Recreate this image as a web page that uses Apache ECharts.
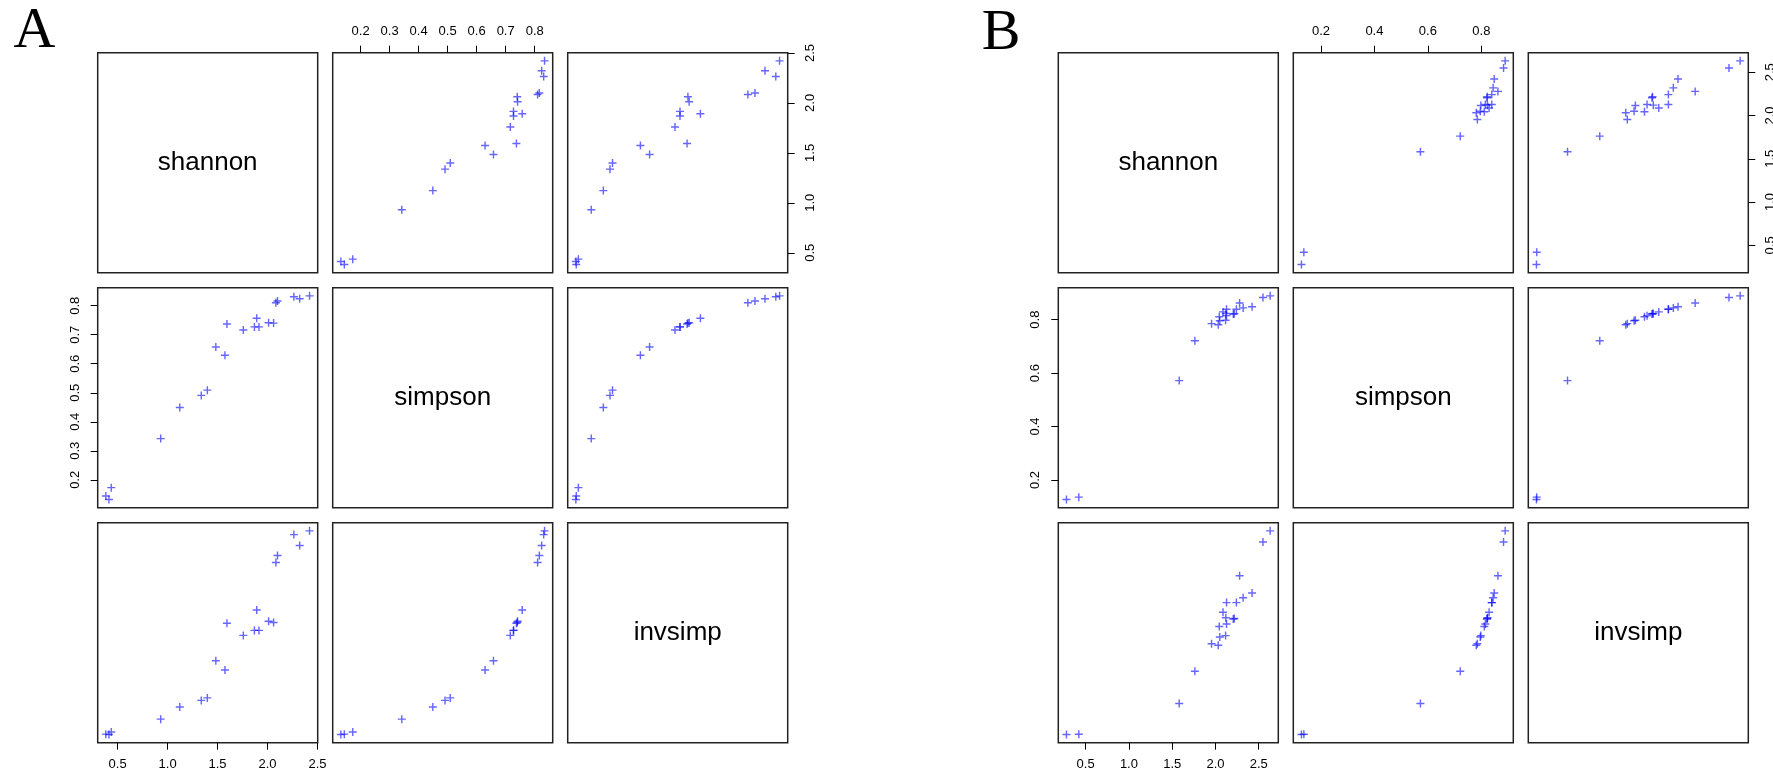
<!DOCTYPE html>
<html>
<head>
<meta charset="utf-8">
<script src="https://cdn.jsdelivr.net/npm/echarts@6/dist/echarts.min.js"></script>
<style>
html,body{margin:0;padding:0;background:#fff;}
#chart{width:1773px;height:774px;}
</style>
</head>
<body>
<div id="chart"></div>
<script>
// ---- Data ----
const varNames = ['shannon', 'simpson', 'invsimp'];

const A_shannon = [0.382, 0.413, 0.436, 0.931, 1.122, 1.337, 1.398, 1.483, 1.574, 1.594, 1.758, 1.892, 1.869, 1.915, 2.011, 2.061, 2.084, 2.100, 2.264, 2.322, 2.421];
const A_simpson = [0.144, 0.132, 0.173, 0.342, 0.449, 0.491, 0.509, 0.658, 0.629, 0.737, 0.716, 0.757, 0.727, 0.727, 0.741, 0.740, 0.810, 0.816, 0.831, 0.824, 0.834];
const A_invsimp = [1.16, 1.15, 1.21, 1.52, 1.81, 1.97, 2.03, 2.92, 2.70, 3.82, 3.53, 4.14, 3.65, 3.65, 3.87, 3.84, 5.28, 5.45, 5.95, 5.69, 6.04];

const B_shannon = [0.278, 0.421, 1.581, 1.762, 1.955, 2.032, 2.050, 2.117, 2.044, 2.128, 2.087, 2.128, 2.120, 2.206, 2.218, 2.242, 2.279, 2.320, 2.423, 2.549, 2.632];
const B_simpson = [0.127, 0.136, 0.572, 0.721, 0.785, 0.781, 0.796, 0.798, 0.811, 0.815, 0.829, 0.839, 0.823, 0.821, 0.822, 0.839, 0.862, 0.844, 0.848, 0.883, 0.889];
const B_invsimp = [1.145, 1.157, 2.34, 3.58, 4.64, 4.58, 4.90, 4.95, 5.30, 5.40, 5.85, 6.22, 5.64, 5.59, 5.61, 6.22, 7.25, 6.41, 6.59, 8.55, 8.98];

const A_shannonTicks = [0.5, 1.0, 1.5, 2.0, 2.5];
const A_simpsonTicks = [0.2, 0.3, 0.4, 0.5, 0.6, 0.7, 0.8];
const A_invsimpTicks = [1, 2, 3, 4, 5, 6];
const B_shannonTicks = [0.5, 1.0, 1.5, 2.0, 2.5];
const B_simpsonTicks = [0.2, 0.4, 0.6, 0.8];
const B_invsimpTicks = [2, 4, 6, 8];
const tickDecimals = [1, 1, 0];

// ---- Layout ----
const PANEL = 220, STEP = 235, TOP0 = 52.7;
const figs = [
  { label: 'A', left0: 97.7, labelX: 34.5, labelY: 31.5,
    data: [A_shannon, A_simpson, A_invsimp], ticks: [A_shannonTicks, A_simpsonTicks, A_invsimpTicks] },
  { label: 'B', left0: 1058.3, labelX: 1001, labelY: 34,
    data: [B_shannon, B_simpson, B_invsimp], ticks: [B_shannonTicks, B_simpsonTicks, B_invsimpTicks] }
];

// R-style 4% range extension
function ext(arr) {
  const mn = Math.min.apply(null, arr), mx = Math.max.apply(null, arr);
  const d = (mx - mn) * 0.04;
  return [mn - d, mx + d];
}

const PLUS = 'path://M5.75,0h2.5v5.75h5.75v2.5h-5.75v5.75h-2.5v-5.75h-5.75v-2.5h5.75z';
const FONT = 'Liberation Sans';

const grids = [], xAxes = [], yAxes = [], series = [], graphics = [];

figs.forEach(f => {
  graphics.push({
    type: 'text', x: f.labelX, y: f.labelY,
    style: { text: f.label, font: '58px "Liberation Serif"', fill: '#000', textAlign: 'center', textVerticalAlign: 'middle' }
  });
  for (let r = 0; r < 3; r++) {
    for (let c = 0; c < 3; c++) {
      const idx = grids.length;
      const left = f.left0 + c * STEP, top = TOP0 + r * STEP;
      grids.push({ left: left, top: top, width: PANEL, height: PANEL, show: true,
        borderColor: '#222', borderWidth: 1.5, backgroundColor: 'transparent', outerBoundsMode: 'none' });
      const diag = r === c;
      const xr = ext(f.data[c]), yr = ext(f.data[r]);
      const showTop = r === 0 && c % 2 === 1;
      const showBottom = r === 2 && c % 2 === 0;
      const showLeft = c === 0 && r % 2 === 1;
      const showRight = c === 2 && r % 2 === 0;
      const xDec = tickDecimals[c], yDec = tickDecimals[r];
      xAxes.push({
        gridIndex: idx, type: 'value', min: xr[0], max: xr[1],
        position: showTop ? 'top' : 'bottom',
        show: !diag && (showTop || showBottom),
        axisLine: { show: false }, splitLine: { show: false },
        axisTick: { show: true, inside: false, length: 7, customValues: f.ticks[c], lineStyle: { color: '#000', width: 1 } },
        axisLabel: { customValues: f.ticks[c], formatter: v => Number(v).toFixed(xDec), margin: 15,
          color: '#000', fontSize: 13, fontFamily: FONT, hideOverlap: false }
      });
      yAxes.push({
        gridIndex: idx, type: 'value', min: yr[0], max: yr[1],
        position: showRight ? 'right' : 'left',
        show: !diag && (showLeft || showRight),
        axisLine: { show: false }, splitLine: { show: false },
        axisTick: { show: true, inside: false, length: 7, customValues: f.ticks[r], lineStyle: { color: '#000', width: 1 } },
        axisLabel: { customValues: f.ticks[r], formatter: v => Number(v).toFixed(yDec), margin: 16, rotate: 90,
          color: '#000', fontSize: 13, fontFamily: FONT, hideOverlap: false }
      });
      if (diag) {
        graphics.push({
          type: 'text', x: left + PANEL / 2, y: top + PANEL / 2,
          style: { text: varNames[r], font: '26px "Liberation Sans"', fill: '#000', textAlign: 'center', textVerticalAlign: 'middle' }
        });
      } else {
        const xs = f.data[c], ys = f.data[r];
        series.push({
          type: 'scatter', xAxisIndex: idx, yAxisIndex: idx, silent: true, animation: false,
          symbol: PLUS, symbolSize: 8,
          itemStyle: { color: 'rgba(0,0,255,0.75)' },
          data: xs.map((x, k) => [x, ys[k]])
        });
      }
    }
  }
});

const chart = echarts.init(document.getElementById('chart'), null, { renderer: 'canvas' });
chart.setOption({
  backgroundColor: '#fff',
  animation: false,
  grid: grids,
  xAxis: xAxes,
  yAxis: yAxes,
  series: series,
  graphic: graphics
});
</script>
</body>
</html>
